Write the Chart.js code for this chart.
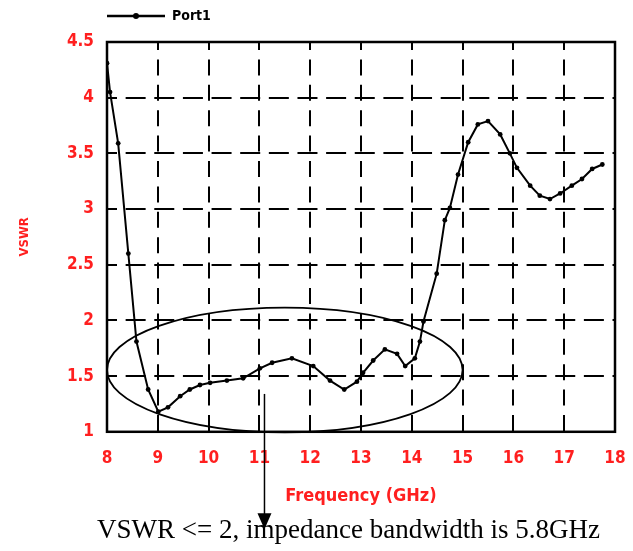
<!DOCTYPE html>
<html>
<head>
<meta charset="utf-8">
<title>VSWR vs Frequency</title>
<script src="https://cdn.jsdelivr.net/npm/chart.js@4.4.1/dist/chart.umd.min.js"></script>
<style>
  html, body { margin: 0; padding: 0; background: #fff; }
  #wrap { width: 633px; height: 551px; }
</style>
</head>
<body>
<div id="wrap"><canvas id="vswrChart"></canvas></div>
<script>
// values
const freqGHz = [
  8.00, 8.06, 8.22, 8.42, 8.58, 8.81, 9.01, 9.20, 9.44, 9.63,
  9.83, 10.03, 10.36, 10.68, 11.01, 11.25, 11.64, 12.06, 12.39, 12.67,
  12.92, 13.04, 13.24, 13.47, 13.71, 13.87, 14.06, 14.16, 14.23, 14.49,
  14.65, 14.75, 14.91, 15.11, 15.30, 15.50, 15.74, 15.93, 16.07, 16.33,
  16.52, 16.72, 16.92, 17.15, 17.35, 17.55, 17.75
];
const vswrPort1 = [
  4.31, 4.05, 3.59, 2.60, 1.81, 1.38, 1.18, 1.22, 1.32, 1.38,
  1.42, 1.44, 1.46, 1.48, 1.57, 1.62, 1.66, 1.59, 1.46, 1.38,
  1.45, 1.53, 1.64, 1.74, 1.70, 1.59, 1.66, 1.81, 1.99, 2.42,
  2.90, 3.01, 3.31, 3.60, 3.76, 3.79, 3.67, 3.50, 3.37, 3.21,
  3.12, 3.09, 3.14, 3.21, 3.27, 3.36, 3.40
];
const xTicks = [8, 9, 10, 11, 12, 13, 14, 15, 16, 17, 18];
const yTicks = [1, 1.5, 2, 2.5, 3, 3.5, 4, 4.5];
const seriesName = 'Port1';
const caption = 'VSWR <= 2, impedance bandwidth is 5.8GHz';

// annotation: ellipse around the matched band, arrow down to the caption
const bandEllipse = { cx: 11.5, cy: 1.555, rx: 3.5, ry: 0.56 };
const arrowAt = { x: 11.1, from: 1.34 };

const RED = '#ff1f1f';
const labelFont = "'DejaVu Sans Condensed', 'Liberation Sans Narrow', 'Liberation Sans', sans-serif";

const decorations = {
  id: 'decorations',
  afterLayout(chart) {
    // caption sits a little right of the canvas centre
    const t = chart.titleBlock;
    t.left = 64;
    t.right = chart.width;
  },
  beforeDatasetsDraw(chart) {
    const { ctx, chartArea: a } = chart;
    ctx.save();
    ctx.strokeStyle = '#000';
    ctx.lineWidth = 2.5;
    ctx.strokeRect(a.left, a.top, a.width, a.height);
    ctx.restore();
  },
  afterDatasetsDraw(chart) {
    const { ctx, scales: { x, y } } = chart;
    ctx.save();
    ctx.strokeStyle = '#000';
    ctx.fillStyle = '#000';

    // ellipse
    const ex = x.getPixelForValue(bandEllipse.cx);
    const ey = y.getPixelForValue(bandEllipse.cy);
    const erx = Math.abs(x.getPixelForValue(bandEllipse.cx + bandEllipse.rx) - ex);
    const ery = Math.abs(y.getPixelForValue(bandEllipse.cy + bandEllipse.ry) - ey);
    ctx.lineWidth = 1.8;
    ctx.beginPath();
    ctx.ellipse(ex, ey, erx, ery, 0, 0, Math.PI * 2);
    ctx.stroke();

    // arrow
    const ax = x.getPixelForValue(arrowAt.x);
    const ay = y.getPixelForValue(arrowAt.from);
    const tip = chart.titleBlock.top + 14;
    ctx.lineWidth = 1.5;
    ctx.beginPath();
    ctx.moveTo(ax, ay);
    ctx.lineTo(ax, tip - 12);
    ctx.stroke();
    ctx.beginPath();
    ctx.moveTo(ax - 7, tip - 16);
    ctx.lineTo(ax + 7, tip - 16);
    ctx.lineTo(ax, tip);
    ctx.closePath();
    ctx.fill();

    // legend sample: line with a marker
    const hb = chart.legend.legendHitBoxes[0];
    if (hb) {
      const ly = hb.top + hb.height / 2;
      ctx.lineWidth = 2.5;
      ctx.beginPath();
      ctx.moveTo(hb.left, ly);
      ctx.lineTo(hb.left + 58, ly);
      ctx.stroke();
      ctx.beginPath();
      ctx.arc(hb.left + 29, ly, 3, 0, Math.PI * 2);
      ctx.fill();
    }
    ctx.restore();
  }
};

new Chart(document.getElementById('vswrChart'), {
  type: 'line',
  data: {
    datasets: [{
      label: seriesName,
      data: freqGHz.map((f, i) => ({ x: f, y: vswrPort1[i] })),
      borderColor: '#000',
      backgroundColor: '#000',
      borderWidth: 2,
      pointRadius: 2.4,
      pointBackgroundColor: '#000',
      pointBorderWidth: 0,
      tension: 0
    }]
  },
  options: {
    responsive: true,
    maintainAspectRatio: false,
    animation: false,
    devicePixelRatio: 1,
    layout: { padding: { left: 0, right: 18, top: 0, bottom: 3.4 } },
    scales: {
      x: {
        type: 'linear',
        min: 8,
        max: 18,
        afterBuildTicks: s => { s.ticks = xTicks.map(v => ({ value: v })); },
        afterFit: s => { s.height = 83.4; },
        ticks: {
          color: RED,
          padding: 0,
          font: { family: labelFont, size: 17, weight: 'bold' },
          callback: v => String(v)
        },
        grid: { color: '#000', lineWidth: 2, drawTicks: true, tickLength: 17, tickColor: 'rgba(0,0,0,0)' },
        border: { display: false, dash: [16, 9.4], dashOffset: 8 },
        title: {
          display: true,
          text: 'Frequency (GHz)',
          color: RED,
          font: { family: labelFont, size: 18, weight: 'bold' },
          padding: { top: 0, bottom: 7.7 }
        }
      },
      y: {
        min: 1,
        max: 4.5,
        afterBuildTicks: s => { s.ticks = yTicks.map(v => ({ value: v })); },
        afterFit: s => { s.width = 107; },
        ticks: {
          color: RED,
          padding: 13,
          font: { family: labelFont, size: 17, weight: 'bold' },
          callback: v => String(v)
        },
        grid: { color: '#000', lineWidth: 2, drawTicks: false },
        border: { display: false, dash: [20, 8.64], dashOffset: 10 },
        title: {
          display: true,
          text: 'VSWR',
          color: RED,
          font: { family: labelFont, size: 13, weight: 'bold' },
          padding: { top: 17, bottom: 0 }
        }
      }
    },
    plugins: {
      legend: {
        display: true,
        position: 'top',
        align: 'start',
        fullSize: false,
        labels: {
          boxWidth: 58,
          boxHeight: 32,
          padding: 0,
          color: '#000',
          font: { family: labelFont, size: 14, weight: 'bold' },
          generateLabels: chart => Chart.defaults.plugins.legend.labels.generateLabels(chart)
            .map(l => ({ ...l, fillStyle: 'rgba(0,0,0,0)', strokeStyle: 'rgba(0,0,0,0)', lineWidth: 0 }))
        }
      },
      title: {
        display: true,
        position: 'bottom',
        text: caption,
        color: '#000',
        font: { family: "'Liberation Serif', 'Times New Roman', serif", size: 27, weight: 'normal', lineHeight: 1.2 },
        padding: 0
      },
      tooltip: { enabled: false }
    }
  },
  plugins: [decorations]
});
</script>
</body>
</html>
